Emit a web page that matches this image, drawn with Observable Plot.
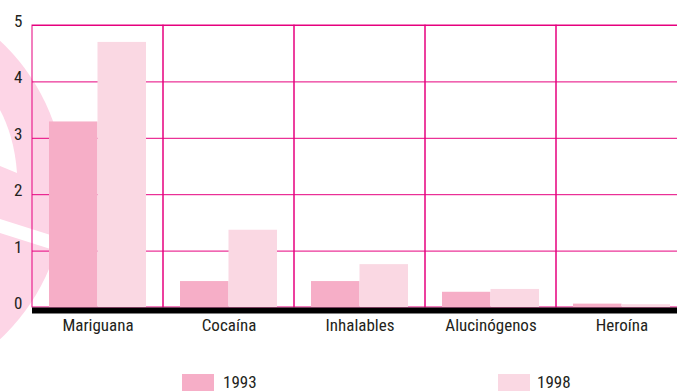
<!DOCTYPE html>
<html>
<head>
<meta charset="utf-8">
<script src="https://cdn.jsdelivr.net/npm/d3@7"></script>
<script src="https://cdn.jsdelivr.net/npm/@observablehq/plot@0.6"></script>
<style>
  html, body { margin: 0; padding: 0; background: #fff; }
  #wrap { position: relative; width: 677px; height: 391px; overflow: hidden;
    font-family: "Liberation Sans Narrow", "Roboto Condensed", "Arial Narrow", Roboto, sans-serif; color: #231f20; }
  #deco { position: absolute; left: 0; top: 0; }
  #chart { position: absolute; left: 0; top: 0; }
  .sw { position: absolute; width: 32px; height: 17px; }
  .lt { position: absolute; font-size: 17px; line-height: 17px; }
</style>
</head>
<body>
<div id="wrap">
  <svg id="deco" width="677" height="391">
    <circle cx="-139" cy="190" r="204" fill="#fdd5e6"></circle>
    <path d="M0,110 C8,125 15,145 17,173 L0,166 Z" fill="#fff"></path>
    <path d="M0,219 L60,238 L60,252 L0,233 Z" fill="#fff"></path>
  </svg>
  <div id="chart"></div>
  <div class="sw" style="left:182px; top:374px; background:#f6aec7"></div>
  <div class="lt" style="left:223px; top:374px">1993</div>
  <div class="sw" style="left:498px; top:374px; background:#fad8e3"></div>
  <div class="lt" style="left:537px; top:374px">1998</div>
</div>
<script>
const categories = ["Mariguana", "Cocaína", "Inhalables", "Alucinógenos", "Heroína"];
const years = ["1993", "1998"];
const values1993 = [3.29, 0.46, 0.46, 0.27, 0.06];
const values1998 = [4.70, 1.37, 0.76, 0.32, 0.05];
const yTicks = [0, 1, 2, 3, 4, 5];

const rows = [];
categories.forEach((c, i) => {
  rows.push({category: c, year: years[0], value: values1993[i]});
  rows.push({category: c, year: years[1], value: values1998[i]});
});

const grid = "#e6007e";
const chart = Plot.plot({
  width: 677,
  height: 360,
  marginLeft: 32,
  marginRight: 0,
  marginTop: 25,
  marginBottom: 53,
  x: {domain: categories, range: [32, 687], padding: 0, axis: null, label: null},
  y: {domain: [0, 5], range: [307, 25], axis: null, label: null},
  style: {background: "transparent", fontFamily: "'Liberation Sans Narrow', 'Roboto Condensed', 'Arial Narrow', Roboto, sans-serif", color: "#231f20", overflow: "visible"},
  marks: [
    Plot.ruleY(yTicks.filter(d => d > 0), {y: d => d, stroke: grid, strokeWidth: 1}),
    Plot.barY(categories, {x: d => d, y1: 0, y2: 5, fill: "none", stroke: grid, strokeWidth: 1}),
    Plot.barY(rows.filter(d => d.year === "1993"), {x: "category", y: "value", fill: "#f6aec7", insetLeft: 17, insetRight: 65.5}),
    Plot.barY(rows.filter(d => d.year === "1998"), {x: "category", y: "value", fill: "#fad8e3", insetLeft: 65.5, insetRight: 17}),
    Plot.ruleY([0], {stroke: "#000", strokeWidth: 6, dy: 3}),
    Plot.axisY({ticks: yTicks, tickSize: 0, tickPadding: 10, dy: -4, fontSize: 17, tickFormat: d => String(d), fill: "#231f20", label: null}),
    Plot.axisX({tickSize: 0, tickPadding: 11, fontSize: 17, fill: "#231f20", label: null})
  ]
});
document.getElementById("chart").appendChild(chart);
</script>
</body>
</html>
